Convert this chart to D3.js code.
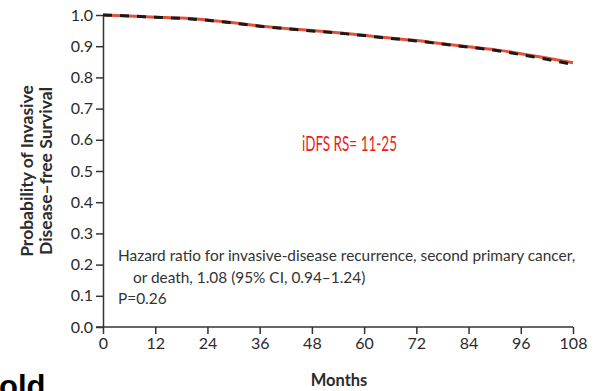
<!DOCTYPE html>
<html lang="en">
<head>
<meta charset="UTF-8">
<title>iDFS</title>
<script src="https://cdn.jsdelivr.net/npm/d3@7"></script>
<style>
body,html{margin:0;padding:0;background:#fff;}
</style>
</head>
<body>
<svg width="600" height="391"></svg>
<script>
// months and survival estimates
let months = [0, 6, 12, 18, 24, 30, 36, 42, 48, 54, 60, 66, 72, 78, 84, 90, 96, 102, 108]
let redVals = [1.0, 0.997, 0.993, 0.990, 0.984, 0.975, 0.965, 0.957, 0.950, 0.943, 0.935, 0.926, 0.918, 0.908, 0.898, 0.889, 0.876, 0.862, 0.847]
let blackVals = [1.0, 0.997, 0.993, 0.989, 0.983, 0.974, 0.964, 0.956, 0.949, 0.942, 0.934, 0.925, 0.917, 0.907, 0.897, 0.887, 0.873, 0.858, 0.841]
let yTicks = [0, 0.1, 0.2, 0.3, 0.4, 0.5, 0.6, 0.7, 0.8, 0.9, 1.0]
let xTicks = [0, 12, 24, 36, 48, 60, 72, 84, 96, 108]
let noteLines = ["Hazard ratio for invasive-disease recurrence, second primary cancer,",
  "or death, 1.08 (95% CI, 0.94\u20131.24)", "P=0.26"]

let svg = d3.select("svg")
let x = d3.scaleLinear().domain([0, 108]).range([103, 573])
let y = d3.scaleLinear().domain([0, 1]).range([327, 15])
let axisCol = "#333"
let font = "Lato, 'Open Sans', sans-serif"

let xAxis = svg.append("g").attr("transform", "translate(0,327)")
  .call(d3.axisBottom(x).tickValues(xTicks).tickSize(7).tickPadding(4).tickSizeOuter(0))
let yAxis = svg.append("g").attr("transform", "translate(103,0)")
  .call(d3.axisLeft(y).tickValues(yTicks).tickFormat(d3.format(".1f")).tickSize(7).tickPadding(3).tickSizeOuter(0))
;[xAxis, yAxis].forEach(a => {
  a.selectAll("path,line").attr("stroke", axisCol).attr("stroke-width", 1.5)
  a.selectAll("text").attr("fill", "#2b2b2b").style("font-family", font).style("font-size", "16px")
})
xAxis.select(".domain").attr("d", "M96,0H573")

let line = d3.line().curve(d3.curveMonotoneX)
  .x((d, i) => x(months[i])).y(d => y(d))

svg.append("path").datum(redVals).attr("d", line)
  .attr("fill", "none").attr("stroke", "#e0533a").attr("stroke-width", 3)
svg.append("path").datum(blackVals).attr("d", line)
  .attr("fill", "none").attr("stroke", "#1a1a1a").attr("stroke-width", 3)
  .attr("stroke-dasharray", "9,8")

// label inside the plot
svg.append("text").attr("x", 302).attr("y", 151)
  .attr("fill", "#ee1c1c").style("font-family", font).style("font-size", "22px")
  .attr("textLength", 95).attr("lengthAdjust", "spacingAndGlyphs")
  .text("iDFS RS= 11-25")

svg.selectAll(".note").data(noteLines).enter().append("text")
  .attr("class", "note")
  .attr("x", (d, i) => i == 1 ? 133 : 118)
  .attr("y", (d, i) => 261 + i * 21.5)
  .attr("fill", "#333").style("font-family", font).style("font-size", "15.4px")
  .text(d => d)

let ylab = svg.append("text").attr("transform", "translate(0,171) rotate(-90)")
  .attr("text-anchor", "middle").attr("fill", "#2b2b2b")
  .style("font-family", font).style("font-size", "17.5px").style("font-weight", "bold")
ylab.append("tspan").attr("x", 0).attr("y", 33).text("Probability of Invasive")
ylab.append("tspan").attr("x", 0).attr("y", 52).text("Disease\u2013free Survival")

svg.append("text").attr("x", 339).attr("y", 386).attr("text-anchor", "middle")
  .attr("fill", "#2b2b2b").style("font-family", font).style("font-size", "16.5px").style("font-weight", "bold")
  .text("Months")

svg.append("text").attr("x", -1).attr("y", 397)
  .attr("fill", "#000").style("font-family", "'Liberation Sans', Arial, sans-serif")
  .style("font-size", "31px").style("font-weight", "bold")
  .text("old")
</script>
</body>
</html>
